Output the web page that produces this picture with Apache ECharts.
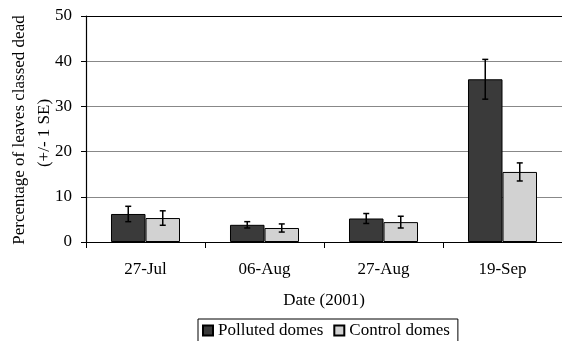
<!DOCTYPE html>
<html>
<head>
<meta charset="utf-8">
<script src="https://cdn.jsdelivr.net/npm/echarts@6/dist/echarts.min.js"></script>
<style>html,body{margin:0;padding:0;background:#fff;}#c{width:562px;height:341px;}</style>
</head>
<body>
<div id="c"></div>
<script>
var categories = ['27-Jul', '06-Aug', '27-Aug', '19-Sep'];
var pollutedValues = [6.2, 3.8, 5.2, 36.0];
var pollutedSE = [1.7, 0.7, 1.1, 4.4];
var controlValues = [5.3, 3.1, 4.4, 15.5];
var controlSE = [1.6, 0.9, 1.3, 2.0];
var seriesNames = ['Polluted domes', 'Control domes'];
var yTicks = [0, 10, 20, 30, 40, 50];

var FONT = 'Liberation Serif';

function errData(vals, se) {
  return vals.map(function (v, i) { return [i, v, se[i]]; });
}
function errSeries(vals, se, side) {
  return {
    type: 'custom',
    silent: true,
    z: 10,
    data: errData(vals, se),
    encode: { x: 0, y: 1 },
    renderItem: function (params, api) {
      var i = api.value(0), v = api.value(1), s = api.value(2);
      var bw = api.size([1, 0])[0];
      var off = side * bw * 0.145;
      var hi = api.coord([i, v + s]);
      var lo = api.coord([i, v - s]);
      var x = hi[0] + off;
      var cap = 3;
      var st = { stroke: '#000', lineWidth: 1.5 };
      return {
        type: 'group',
        children: [
          { type: 'line', shape: { x1: x, y1: hi[1], x2: x, y2: lo[1] }, style: st },
          { type: 'line', shape: { x1: x - cap, y1: hi[1], x2: x + cap, y2: hi[1] }, style: st },
          { type: 'line', shape: { x1: x - cap, y1: lo[1], x2: x + cap, y2: lo[1] }, style: st }
        ]
      };
    }
  };
}

var chart = echarts.init(document.getElementById('c'));
chart.setOption({
  animation: false,
  backgroundColor: '#fff',
  textStyle: { fontFamily: FONT, color: '#000' },
  grid: { left: 86, top: 16, width: 481, height: 226, containLabel: false },
  legend: {
    data: seriesNames,
    left: 198, top: 319,
    orient: 'horizontal',
    icon: 'rect',
    itemWidth: 10, itemHeight: 10, itemGap: 10,
    padding: [3, 8, 3, 4],
    borderColor: '#000', borderWidth: 1,
    textStyle: { fontFamily: FONT, fontSize: 17, color: '#000' }
  },
  xAxis: {
    type: 'category',
    data: categories,
    axisLine: { lineStyle: { color: '#000', width: 1.2 } },
    axisTick: { show: true, length: 6, interval: 0, lineStyle: { color: '#000' } },
    axisLabel: { fontFamily: FONT, fontSize: 17, color: '#000', margin: 19 },
    name: 'Date (2001)',
    nameLocation: 'middle',
    nameGap: 50,
    nameTextStyle: { fontFamily: FONT, fontSize: 17, color: '#000' }
  },
  yAxis: {
    type: 'value',
    min: 0, max: 50, interval: 10,
    axisLine: { show: true, lineStyle: { color: '#000', width: 1.2 } },
    axisTick: { show: true, length: 5, lineStyle: { color: '#000' } },
    axisLabel: {
      fontFamily: FONT, fontSize: 17, color: '#000', margin: 14,
      formatter: function (v) { return yTicks.indexOf(v) >= 0 ? String(v) : ''; }
    },
    splitLine: { show: true, lineStyle: { color: ['#888', '#888', '#888', '#888', '#888', '#000'], width: 1 } }
  },
  graphic: [
    { type: 'text', x: 20, y: 130, rotation: Math.PI / 2,
      style: { text: 'Percentage of leaves classed dead', fontFamily: FONT, fontSize: 17, fill: '#000', align: 'center', verticalAlign: 'middle' } },
    { type: 'text', x: 45, y: 133, rotation: Math.PI / 2,
      style: { text: '(+/- 1 SE)', fontFamily: FONT, fontSize: 17, fill: '#000', align: 'center', verticalAlign: 'middle' } }
  ],
  series: [
    { name: seriesNames[0], type: 'bar', data: pollutedValues, barGap: '0%', barCategoryGap: '42%',
      itemStyle: { color: '#3a3a3a', borderColor: '#000', borderWidth: 1 } },
    { name: seriesNames[1], type: 'bar', data: controlValues,
      itemStyle: { color: '#d2d2d2', borderColor: '#000', borderWidth: 1 } },
    errSeries(pollutedValues, pollutedSE, -1),
    errSeries(controlValues, controlSE, 1)
  ]
});
</script>
</body>
</html>
